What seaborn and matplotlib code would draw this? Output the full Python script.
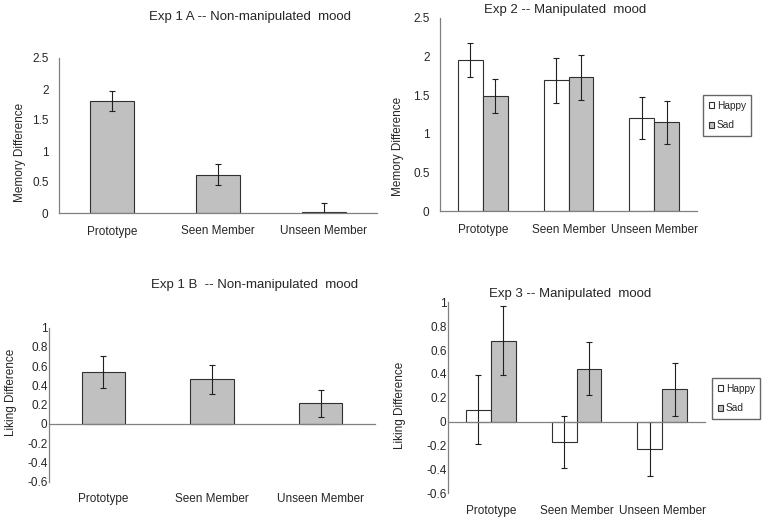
import matplotlib
matplotlib.use("Agg")
import matplotlib.pyplot as plt
import seaborn as sns
import pandas as pd

sns.set_style("white")
plt.rcParams['font.family'] = ['Liberation Sans', 'DejaVu Sans']

categories = ["Prototype", "Seen Member", "Unseen Member"]
moods = ["Happy", "Sad"]

# Exp 1A memory difference
exp1a_vals = [1.80, 0.62, 0.02]
exp1a_err = [0.16, 0.17, 0.14]
# Exp 2 memory difference
exp2_happy = [1.95, 1.69, 1.20]
exp2_happy_err = [0.22, 0.29, 0.27]
exp2_sad = [1.485, 1.73, 1.15]
exp2_sad_err = [0.22, 0.29, 0.28]
# Exp 1B liking difference
exp1b_vals = [0.54, 0.465, 0.215]
exp1b_err = [0.17, 0.15, 0.14]
# Exp 3 liking difference
exp3_happy = [0.10, -0.17, -0.23]
exp3_happy_err = [0.29, 0.22, 0.225]
exp3_sad = [0.68, 0.445, 0.27]
exp3_sad_err = [0.29, 0.22, 0.22]

W, H = 765, 521
fig = plt.figure(figsize=(W / 100, H / 100), dpi=100)

def add_ax(x0, x1, ytop, ybot):
    ax = fig.add_axes([x0 / W, (H - ybot) / H, (x1 - x0) / W, (ybot - ytop) / H])
    ax._px = (x0, x1, ytop, ybot)
    return ax

GRAY = "#C0C0C0"
EDGE = "#303030"
AXC = "#808080"

def style(ax, ylim, yticks, ylabel, label_px, zero_spine=False, pad=8, ypad=4):
    ax.set_xlim(-0.5, 2.5)
    ax.set_ylim(*ylim)
    ax.set_yticks(yticks)
    ax.set_yticklabels([f"{t:g}" for t in yticks])
    for s in ["top", "right"]:
        ax.spines[s].set_visible(False)
    for s in ["left", "bottom"]:
        ax.spines[s].set_color(AXC)
        ax.spines[s].set_linewidth(0.9)
    if zero_spine:
        ax.spines["bottom"].set_position(("data", 0))
    ax.set_xticks([0, 1, 2])
    ax.set_xticklabels(categories, fontsize=8.5)
    ax.set_xticks([0.5, 1.5, 2.5], minor=True)
    ax.tick_params(axis="x", which="major", length=0, pad=pad)
    ax.tick_params(axis="x", which="minor", length=4, color=AXC, direction="out")
    ax.tick_params(axis="y", length=3.5, color=AXC, direction="out", labelsize=8.5, pad=ypad)
    ax.set_xlabel("")
    ax.set_ylabel(ylabel, fontsize=8.5, va="center")
    x0, x1, yt, yb = ax._px
    lx, ly = label_px
    ax.yaxis.set_label_coords((lx - x0) / (x1 - x0), (yb - ly) / (yb - yt))
    ax.set_facecolor("white")

def add_errs(ax, errs_per_container):
    for cont, errs in zip(ax.containers, errs_per_container):
        for bar, e in zip(cont, errs):
            x = bar.get_x() + bar.get_width() / 2
            y = bar.get_y() + bar.get_height()
            ax.errorbar(x, y, yerr=e, fmt="none", ecolor="#202020",
                        elinewidth=0.8, capsize=2, capthick=0.8)

def legend(ax, x, y):
    h, l = ax.get_legend_handles_labels()
    ax.legend(h, l, loc="upper left", bbox_to_anchor=(x / W, 1 - y / H),
              bbox_transform=fig.transFigure, fontsize=7.3, frameon=True, fancybox=False,
              edgecolor="#404040", handlelength=0.55, handleheight=0.55, handletextpad=0.25,
              borderpad=0.55, labelspacing=0.95, borderaxespad=0)

# Panel 1: Exp 1A
ax1 = add_ax(59, 377, 58, 213)
df1 = pd.DataFrame({"cat": categories, "val": exp1a_vals})
sns.barplot(data=df1, x="cat", y="val", color=GRAY, saturation=1, width=0.41,
            edgecolor=EDGE, linewidth=0.8, errorbar=None, ax=ax1)
add_errs(ax1, [exp1a_err])
style(ax1, (0, 2.5), [0, 0.5, 1, 1.5, 2, 2.5], "Memory Difference", (20, 152), pad=9)
fig.text(250 / W, 1 - 17 / H, "Exp 1 A -- Non-manipulated  mood", ha="center", va="center", fontsize=9.5)

# Panel 2: Exp 2
ax2 = add_ax(440, 697, 17.7, 211.3)
df2 = pd.DataFrame({"cat": categories * 2, "mood": ["Happy"] * 3 + ["Sad"] * 3,
                    "val": exp2_happy + exp2_sad})
sns.barplot(data=df2, x="cat", y="val", hue="mood", hue_order=moods,
            palette={"Happy": "white", "Sad": GRAY}, saturation=1, width=0.58,
            edgecolor=EDGE, linewidth=0.8, errorbar=None, ax=ax2)
add_errs(ax2, [exp2_happy_err, exp2_sad_err])
style(ax2, (0, 2.5), [0, 0.5, 1, 1.5, 2, 2.5], "Memory Difference", (398, 146), pad=9)
legend(ax2, 703, 95)
fig.text(565 / W, 1 - 10 / H, "Exp 2 -- Manipulated  mood", ha="center", va="center", fontsize=9.5)

# Panel 3: Exp 1B
ax3 = add_ax(49, 375, 327.7, 481.7)
df3 = pd.DataFrame({"cat": categories, "val": exp1b_vals})
sns.barplot(data=df3, x="cat", y="val", color=GRAY, saturation=1, width=0.40,
            edgecolor=EDGE, linewidth=0.8, errorbar=None, ax=ax3)
add_errs(ax3, [exp1b_err])
style(ax3, (-0.6, 1), [-0.6, -0.4, -0.2, 0, 0.2, 0.4, 0.6, 0.8, 1], "Liking Difference",
      (11, 392), zero_spine=True, pad=50, ypad=-2.5)
fig.text(255 / W, 1 - 285 / H, "Exp 1 B  -- Non-manipulated  mood", ha="center", va="center", fontsize=9.5)

# Panel 4: Exp 3
ax4 = add_ax(448, 705, 302.3, 493.3)
df4 = pd.DataFrame({"cat": categories * 2, "mood": ["Happy"] * 3 + ["Sad"] * 3,
                    "val": exp3_happy + exp3_sad})
sns.barplot(data=df4, x="cat", y="val", hue="mood", hue_order=moods,
            palette={"Happy": "white", "Sad": GRAY}, saturation=1, width=0.58,
            edgecolor=EDGE, linewidth=0.8, errorbar=None, ax=ax4)
add_errs(ax4, [exp3_happy_err, exp3_sad_err])
style(ax4, (-0.6, 1), [-0.6, -0.4, -0.2, 0, 0.2, 0.4, 0.6, 0.8, 1], "Liking Difference",
      (400, 405), zero_spine=True, pad=60, ypad=-2.5)
legend(ax4, 712, 378)
fig.text(570 / W, 1 - 294 / H, "Exp 3 -- Manipulated  mood", ha="center", va="center", fontsize=9.5)

fig.savefig("out.png", dpi=100, facecolor="white")
